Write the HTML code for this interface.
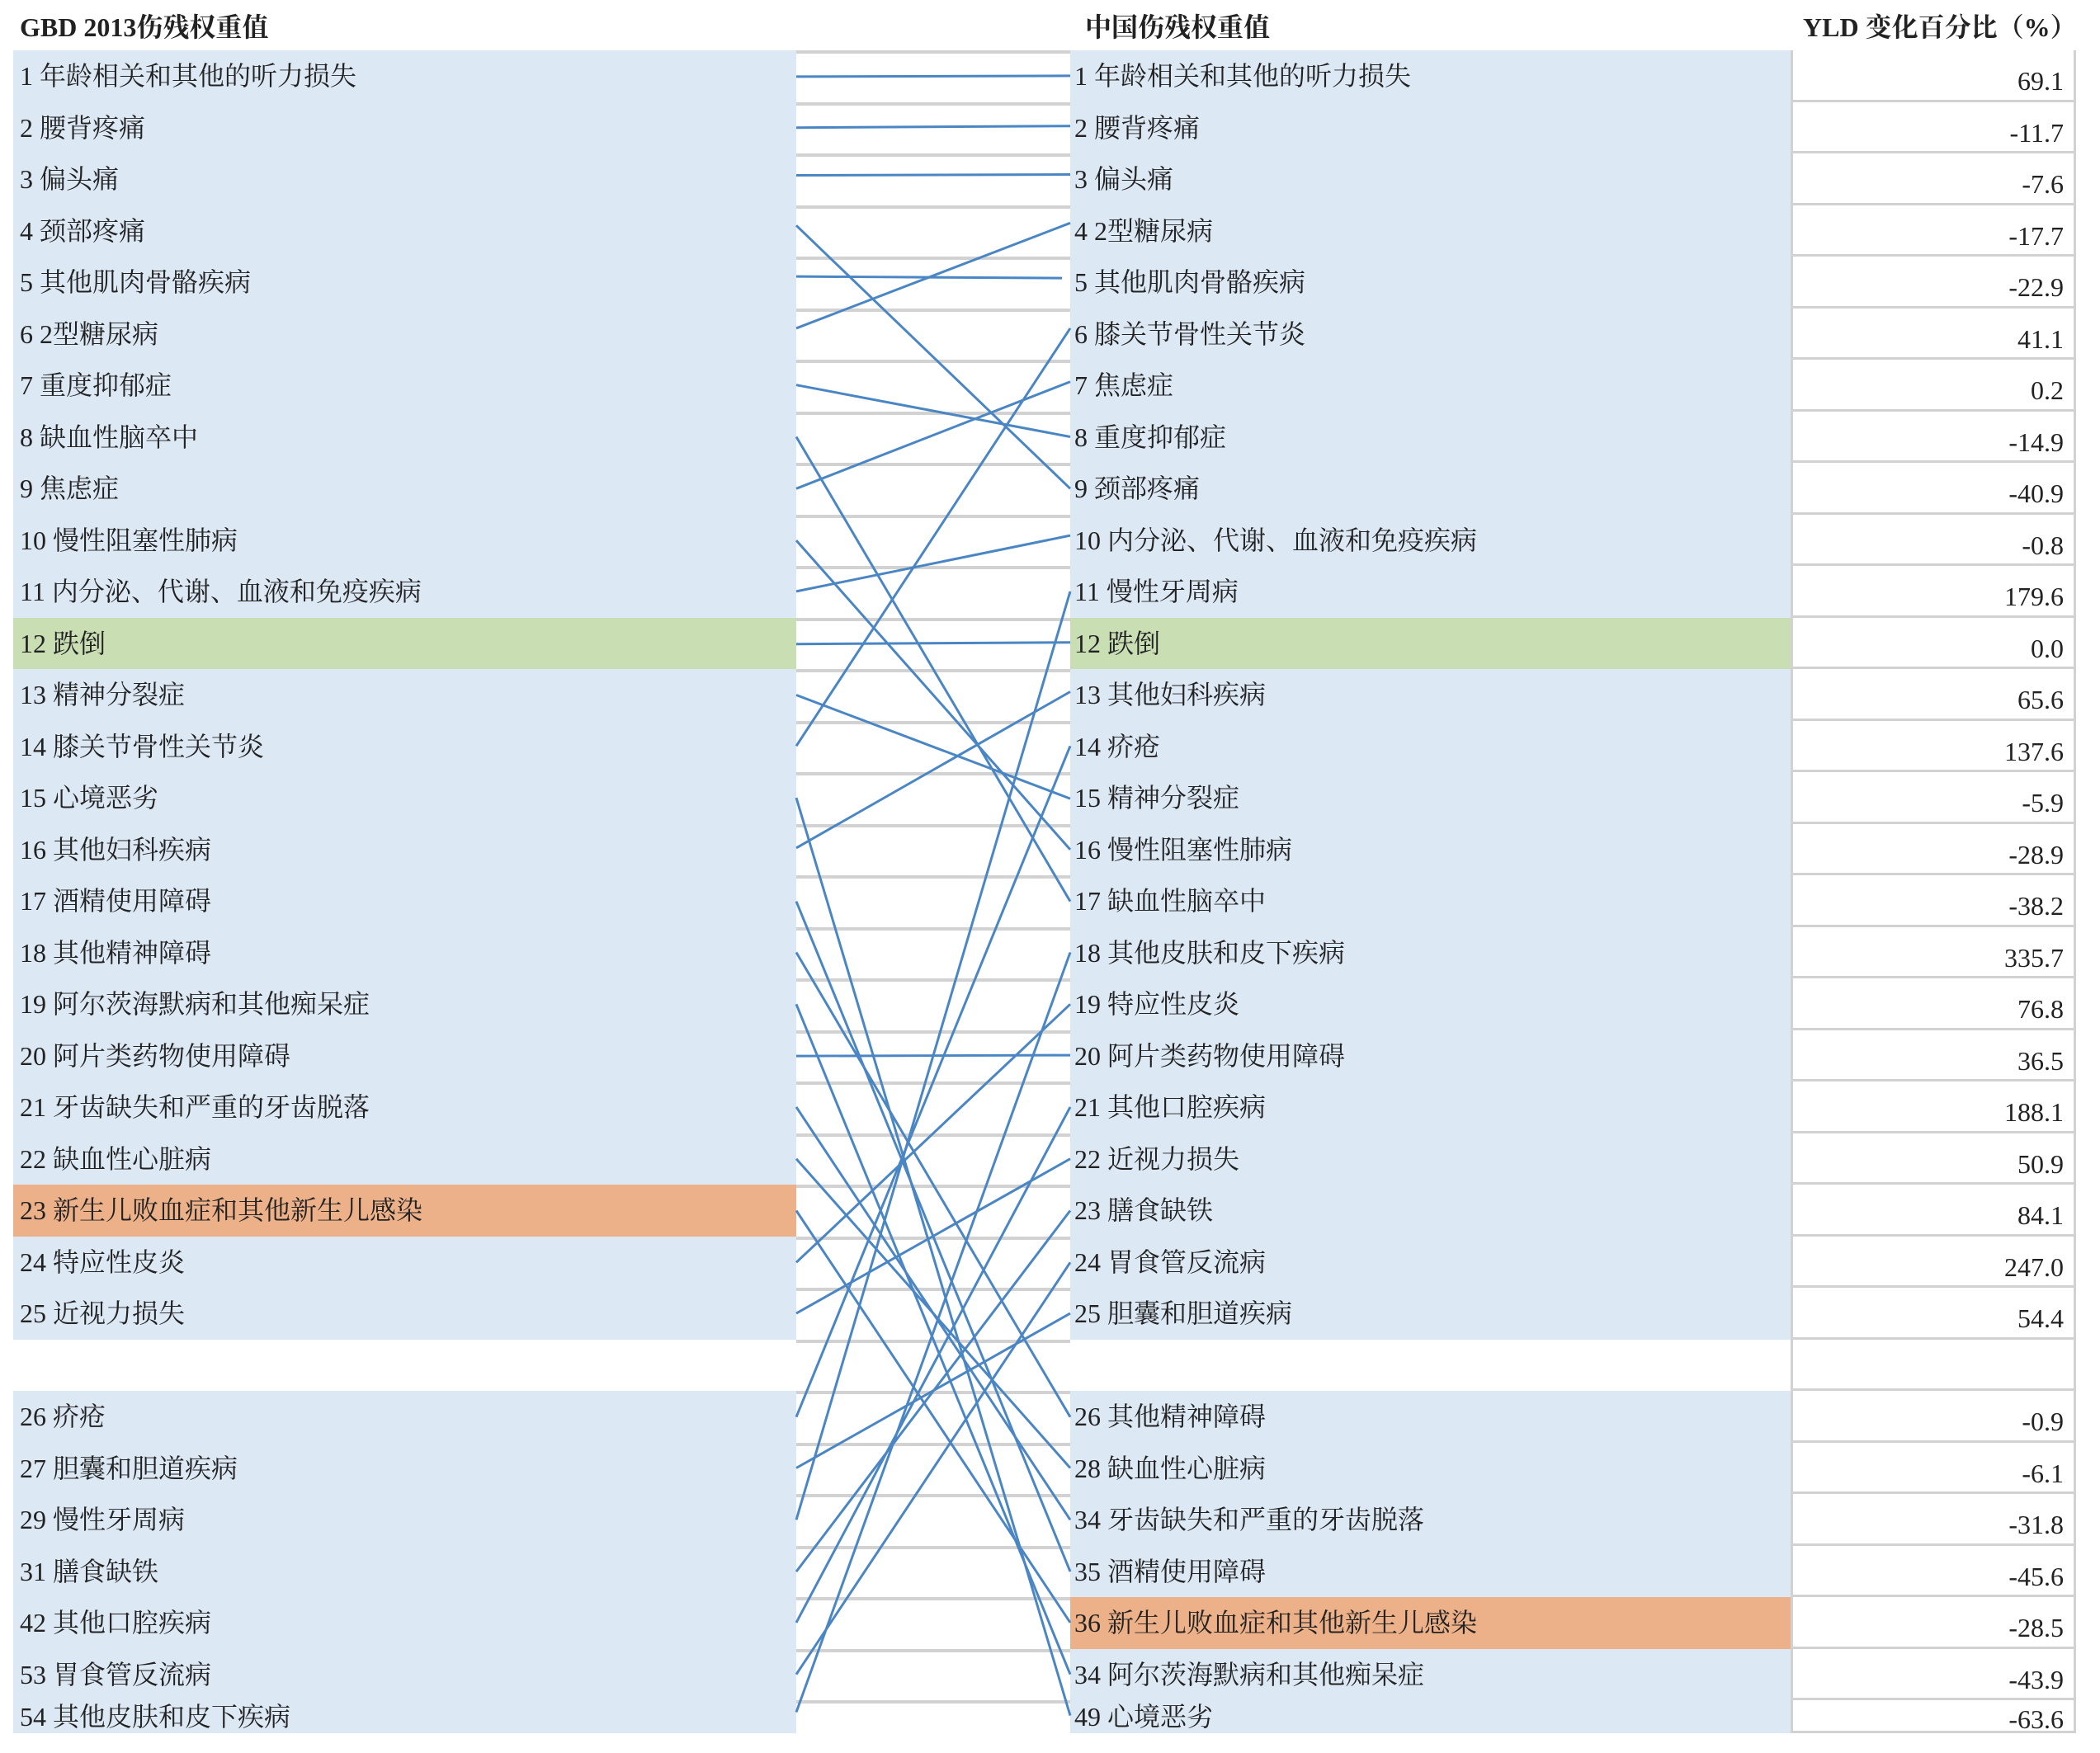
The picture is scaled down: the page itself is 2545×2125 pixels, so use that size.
<!DOCTYPE html>
<html><head><meta charset="utf-8">
<style>
body{margin:0;width:2545px;height:2125px;background:#fff;position:relative;overflow:hidden;font-family:"Liberation Serif","Noto Serif CJK SC",serif;color:#222}
.h{position:absolute;top:12px;font-size:32px;font-weight:bold;line-height:42px}
.col{position:absolute;top:61px}
.col div{height:62.5px;line-height:62.5px;box-sizing:border-box;font-size:32px;white-space:nowrap}
.L div{background:#dde8f5;padding-left:8px}
.R div{background:#dde8f5;padding-left:5px}
.col div.g{background:#fff}
.col div.gr{background:#c9deb3}
.col div.o{background:#edb189}
.M div{border-top:4px solid #d2d2d2}
.V{border-left:3px solid #d2d2d2;border-right:3px solid #d2d2d2;box-sizing:border-box}
.V div{border-bottom:3px solid #d2d2d2;text-align:right;padding-right:12px;line-height:74px}
.col div.last{height:40px;line-height:40px}
.V div.last{line-height:46px}
</style></head><body>
<div class="h" style="left:24px">GBD 2013伤残权重值</div>
<div class="h" style="left:1315px">中国伤残权重值</div>
<div class="h" style="left:2185px">YLD 变化百分比（%）</div>

<div class="col L" style="left:16px;width:949px">
<div>1 年龄相关和其他的听力损失</div><div>2 腰背疼痛</div><div>3 偏头痛</div><div>4 颈部疼痛</div><div>5 其他肌肉骨骼疾病</div><div>6 2型糖尿病</div><div>7 重度抑郁症</div><div>8 缺血性脑卒中</div><div>9 焦虑症</div><div>10 慢性阻塞性肺病</div><div>11 内分泌、代谢、血液和免疫疾病</div><div class="gr">12 跌倒</div><div>13 精神分裂症</div><div>14 膝关节骨性关节炎</div><div>15 心境恶劣</div><div>16 其他妇科疾病</div><div>17 酒精使用障碍</div><div>18 其他精神障碍</div><div>19 阿尔茨海默病和其他痴呆症</div><div>20 阿片类药物使用障碍</div><div>21 牙齿缺失和严重的牙齿脱落</div><div>22 缺血性心脏病</div><div class="o">23 新生儿败血症和其他新生儿感染</div><div>24 特应性皮炎</div><div>25 近视力损失</div><div class="g"></div><div>26 疥疮</div><div>27 胆囊和胆道疾病</div><div>29 慢性牙周病</div><div>31 膳食缺铁</div><div>42 其他口腔疾病</div><div>53 胃食管反流病</div><div class="last">54 其他皮肤和皮下疾病</div>
</div>

<div class="col M" style="left:965px;width:332px">
<div></div><div></div><div></div><div></div><div></div><div></div><div></div><div></div><div></div><div></div><div></div><div></div><div></div><div></div><div></div><div></div><div></div><div></div><div></div><div></div><div></div><div></div><div></div><div></div><div></div><div></div><div></div><div></div><div></div><div></div><div></div><div></div><div class="last"></div>
</div>

<div class="col R" style="left:1297px;width:873px">
<div>1 年龄相关和其他的听力损失</div><div>2 腰背疼痛</div><div>3 偏头痛</div><div>4 2型糖尿病</div><div>5 其他肌肉骨骼疾病</div><div>6 膝关节骨性关节炎</div><div>7 焦虑症</div><div>8 重度抑郁症</div><div>9 颈部疼痛</div><div>10 内分泌、代谢、血液和免疫疾病</div><div>11 慢性牙周病</div><div class="gr">12 跌倒</div><div>13 其他妇科疾病</div><div>14 疥疮</div><div>15 精神分裂症</div><div>16 慢性阻塞性肺病</div><div>17 缺血性脑卒中</div><div>18 其他皮肤和皮下疾病</div><div>19 特应性皮炎</div><div>20 阿片类药物使用障碍</div><div>21 其他口腔疾病</div><div>22 近视力损失</div><div>23 膳食缺铁</div><div>24 胃食管反流病</div><div>25 胆囊和胆道疾病</div><div class="g"></div><div>26 其他精神障碍</div><div>28 缺血性心脏病</div><div>34 牙齿缺失和严重的牙齿脱落</div><div>35 酒精使用障碍</div><div class="o">36 新生儿败血症和其他新生儿感染</div><div>34 阿尔茨海默病和其他痴呆症</div><div class="last">49 心境恶劣</div>
</div>

<div class="col V" style="left:2170px;width:346px">
<div>69.1</div><div>-11.7</div><div>-7.6</div><div>-17.7</div><div>-22.9</div><div>41.1</div><div>0.2</div><div>-14.9</div><div>-40.9</div><div>-0.8</div><div>179.6</div><div>0.0</div><div>65.6</div><div>137.6</div><div>-5.9</div><div>-28.9</div><div>-38.2</div><div>335.7</div><div>76.8</div><div>36.5</div><div>188.1</div><div>50.9</div><div>84.1</div><div>247.0</div><div>54.4</div><div></div><div>-0.9</div><div>-6.1</div><div>-31.8</div><div>-45.6</div><div>-28.5</div><div>-43.9</div><div class="last">-63.6</div>
</div>

<svg style="position:absolute;left:0;top:0" width="2545" height="2125">
<g stroke="#4a85c4" stroke-width="3" fill="none" transform="matrix(0.99104 0 0 0.99681 3.69 1.19)">
<line x1="970" y1="92" x2="1305" y2="91"/>
<line x1="970" y1="154" x2="1305" y2="152"/>
<line x1="970" y1="212" x2="1305" y2="211"/>
<line x1="970" y1="273" x2="1305" y2="593"/>
<line x1="970" y1="335" x2="1295" y2="337"/>
<line x1="970" y1="398" x2="1305" y2="270"/>
<line x1="970" y1="467" x2="1305" y2="530"/>
<line x1="970" y1="530" x2="1305" y2="1095"/>
<line x1="970" y1="593" x2="1305" y2="463"/>
<line x1="970" y1="656" x2="1305" y2="1032"/>
<line x1="970" y1="718" x2="1305" y2="650"/>
<line x1="970" y1="782" x2="1305" y2="780"/>
<line x1="970" y1="844" x2="1305" y2="970"/>
<line x1="970" y1="906" x2="1305" y2="398"/>
<line x1="970" y1="969" x2="1305" y2="2085"/>
<line x1="970" y1="1030" x2="1305" y2="840"/>
<line x1="970" y1="1095" x2="1305" y2="1910"/>
<line x1="970" y1="1157" x2="1305" y2="1722"/>
<line x1="970" y1="1220" x2="1305" y2="2035"/>
<line x1="970" y1="1283" x2="1305" y2="1282"/>
<line x1="970" y1="1345" x2="1305" y2="1847"/>
<line x1="970" y1="1408" x2="1305" y2="1784"/>
<line x1="970" y1="1471" x2="1305" y2="1972"/>
<line x1="970" y1="1534" x2="1305" y2="1220"/>
<line x1="970" y1="1596" x2="1305" y2="1408"/>
<line x1="970" y1="1722" x2="1305" y2="906"/>
<line x1="970" y1="1784" x2="1305" y2="1596"/>
<line x1="970" y1="1847" x2="1305" y2="718"/>
<line x1="970" y1="1910" x2="1305" y2="1471"/>
<line x1="970" y1="1972" x2="1305" y2="1345"/>
<line x1="970" y1="2035" x2="1305" y2="1534"/>
<line x1="970" y1="2081" x2="1305" y2="1157"/>
</g>
</svg>
</body></html>
